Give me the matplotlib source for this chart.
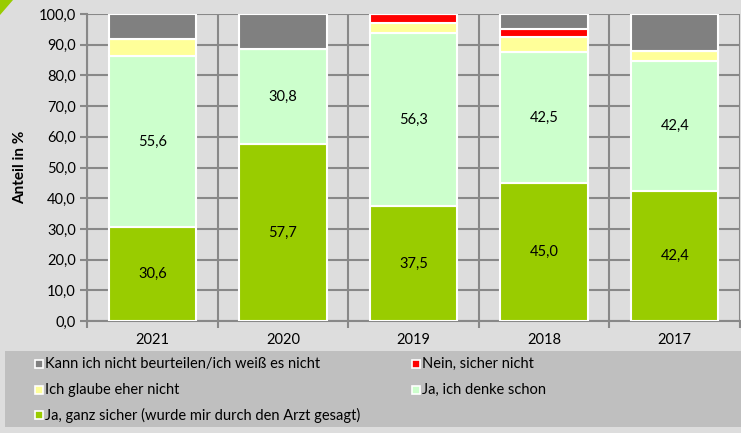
import matplotlib
matplotlib.use("Agg")
import matplotlib.pyplot as plt
from matplotlib.patches import Rectangle, Polygon
from matplotlib.ticker import FuncFormatter, MultipleLocator, FixedLocator
import numpy as np

years = ["2021", "2020", "2019", "2018", "2017"]
ja_ganz_sicher = [30.6, 57.7, 37.5, 45.0, 42.4]
ja_denke_schon = [55.6, 30.8, 56.3, 42.5, 42.4]
eher_nicht = [5.6, 0.0, 3.2, 5.0, 3.1]
sicher_nicht = [0.0, 0.0, 3.0, 2.5, 0.0]
weiss_nicht = [8.2, 11.5, 0.0, 5.0, 12.1]

series = [
    ("Ja, ganz sicher (wurde mir durch den Arzt gesagt)", ja_ganz_sicher, "#99CC00", True),
    ("Ja, ich denke schon", ja_denke_schon, "#CCFFCC", True),
    ("Ich glaube eher nicht", eher_nicht, "#FFFF99", False),
    ("Nein, sicher nicht", sicher_nicht, "#FF0000", False),
    ("Kann ich nicht beurteilen/ich weiß es nicht", weiss_nicht, "#808080", False),
]

plt.rcParams['font.family'] = ['Lato', 'DejaVu Sans']

W, H = 741, 433
fig = plt.figure(figsize=(W / 100, H / 100), dpi=100)
fig.patch.set_facecolor("#DDDDDD")

ax = fig.add_axes([87 / W, 1 - 321 / H, (740 - 87) / W, (321 - 14) / H])
ax.set_facecolor("#DDDDDD")

x = np.arange(len(years))
bottom = np.zeros(len(years))
for name, vals, col, lab in series:
    vals = np.array(vals)
    ax.bar(x, vals, bottom=bottom, width=0.67, color=col, edgecolor="white",
           linewidth=1.5, zorder=3)
    if lab:
        for xi, b, v in zip(x, bottom, vals):
            ax.text(xi, b + v / 2, f"{v:.1f}".replace(".", ","), ha="center",
                    va="center", fontsize=10.5, color="black", zorder=4)
    bottom += vals

ax.set_xlim(-0.5, len(years) - 0.5)
ax.set_ylim(0, 100)
ax.yaxis.set_major_locator(MultipleLocator(10))
ax.yaxis.set_major_formatter(FuncFormatter(lambda v, p: f"{v:.1f}".replace(".", ",")))
ax.set_xticks(x)
ax.set_xticklabels(years)
ax.xaxis.set_minor_locator(FixedLocator(np.arange(-0.5, len(years), 1.0)))
ax.tick_params(axis="x", which="major", length=0, pad=9, labelsize=10.5)
ax.tick_params(axis="x", which="minor", length=5, width=1.5, color="#888888", direction="out")
ax.tick_params(axis="y", length=5, width=1.5, color="#888888", labelsize=10.5, pad=3)
ax.grid(True, axis="y", color="#888888", linewidth=1.5, zorder=0)
ax.grid(True, axis="x", which="minor", color="#888888", linewidth=1.5, zorder=0)
for s in ["top", "right"]:
    ax.spines[s].set_visible(False)
for s in ["left", "bottom"]:
    ax.spines[s].set_color("#888888")
    ax.spines[s].set_linewidth(1.5)
ax.set_ylabel("Anteil in %", fontsize=11, fontweight="bold", labelpad=8)

# corner triangle
fig.patches.append(Polygon([[0, 1], [13 / W, 1], [0, 1 - 15 / H]], closed=True,
                           transform=fig.transFigure, facecolor="#99CC00",
                           edgecolor="none"))

# legend box
fig.patches.append(Rectangle((5 / W, 1 - 427 / H), (741 - 5) / W, (427 - 351) / H,
                             transform=fig.transFigure, facecolor="#BFBFBF",
                             edgecolor="none"))
leg_items = [
    (series[4], 39, 364), (series[3], 416, 364),
    (series[2], 39, 390), (series[1], 416, 390),
    (series[0], 39, 415),
]
for (name, vals, col, lab), px, py in leg_items:
    s = 8
    fig.patches.append(Rectangle(((px - s / 2) / W, 1 - (py + s / 2) / H), s / W, s / H,
                                 transform=fig.transFigure, facecolor=col,
                                 edgecolor="white", linewidth=1.2))
    fig.text((px + 6) / W, 1 - py / H, name, ha="left", va="center", fontsize=10.5)

fig.savefig("out.png", dpi=100, facecolor=fig.get_facecolor())
